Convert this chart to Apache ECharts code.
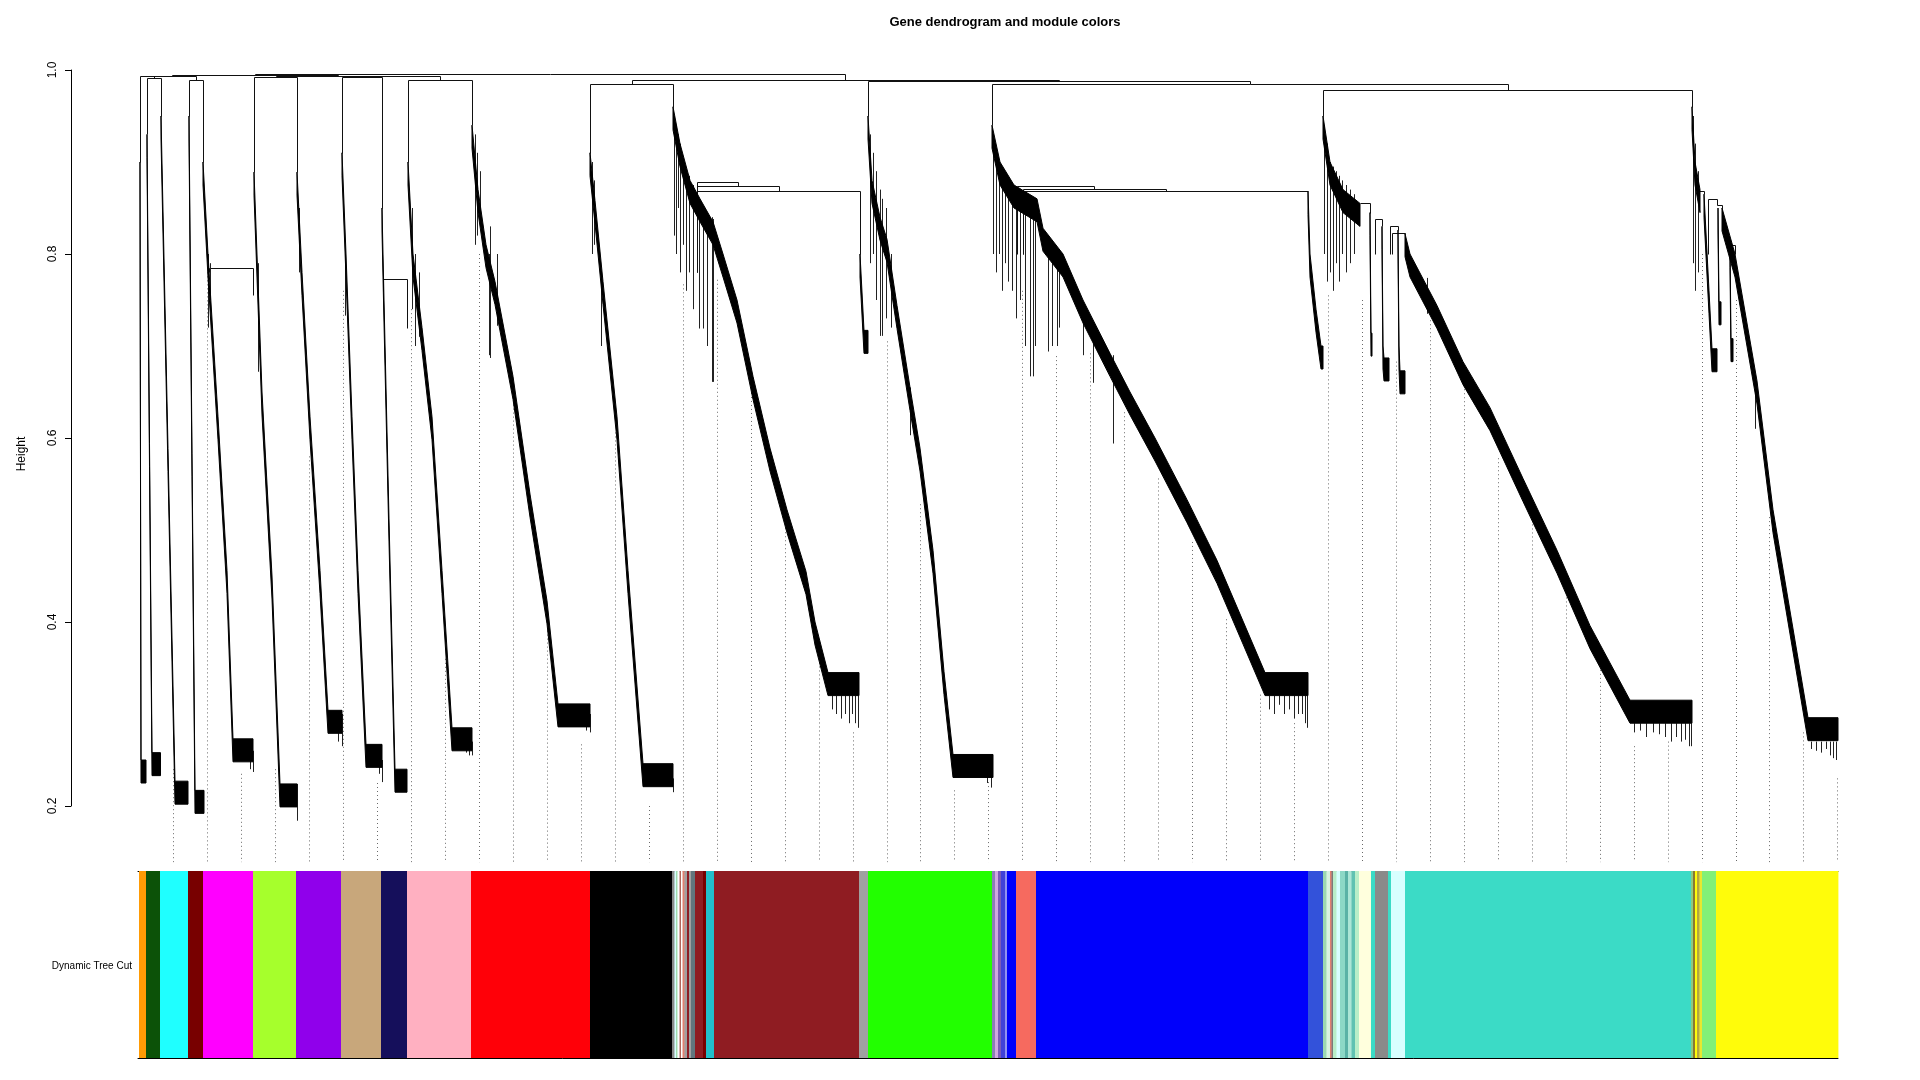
<!DOCTYPE html>
<html><head><meta charset="utf-8">
<script src="https://cdn.jsdelivr.net/npm/echarts/dist/echarts.min.js"></script>
<style>html,body{margin:0;padding:0;background:#fff;}#c{width:1920px;height:1080px;}</style>
</head><body><div id="c"></div>
<script>
// ---------------- DATA (leaf position 0..1700, height) ----------------
const yTicks = [0.2, 0.4, 0.6, 0.8, 1.0];
const leafRange = [0, 1700];
const HANG = 0.025;          // leaf hang of the dendrogram
const GUIDE_BASE = 0.139;    // bottom of the dendrogram panel

// merges: [xLeft, hLeftChild, xRight, hRightChild, hMerge]
const merges = [
  [9, 0.93, 23, 0.95, 0.9915],
  [2, 0.90, 16, 0.9915, 0.993],
  [51, 0.95, 65, 0.90, 0.989],
  [9, 0.993, 58, 0.989, 0.994],
  [116, 0.889, 159, 0.889, 0.9925],
  [204, 0.91, 244, 0.85, 0.9925],
  [270, 0.90, 334, 0.94, 0.9895],
  [224, 0.9925, 302, 0.9895, 0.993],
  [137.5, 0.9925, 263, 0.993, 0.994],
  [33.5, 0.994, 200.25, 0.994, 0.995],
  [452, 0.91, 535, 0.96, 0.985],
  [1185, 0.95, 1554, 0.96, 0.978],
  [854, 0.94, 1369.5, 0.978, 0.985],
  [730, 0.95, 1111.75, 0.985, 0.988],
  [493.5, 0.985, 920.9, 0.988, 0.989],
  [116.9, 0.995, 707.2, 0.989, 0.996],
  [71, 0.78, 115, 0.755, 0.785],
  [245, 0.76, 269, 0.72, 0.773],
  [559, 0.78, 722, 0.80, 0.869],
  [559, 0.78, 640.5, 0.869, 0.874],
  [559, 0.78, 599.75, 0.874, 0.878],
  [885, 0.80, 1170, 0.868, 0.868],
  [885, 0.80, 1027.5, 0.868, 0.871],
  [879, 0.80, 956, 0.871, 0.874],
  [1222, 0.855, 1232, 0.845, 0.855],
  [1237, 0.80, 1244, 0.83, 0.838],
  [1252, 0.80, 1260, 0.826, 0.83],
  [1254, 0.80, 1267, 0.822, 0.823],
  [1560, 0.80, 1566, 0.865, 0.869],
  [1570, 0.80, 1579, 0.853, 0.86],
  [1579, 0.853, 1584, 0.85, 0.853],
  [1592, 0.81, 1597, 0.80, 0.81]
];

// dense chaining branches of each module: upper edge [leaf, height]
const bandOrange = [[2, 0.90], [3, 0.25], [8, 0.25]];
const bandDarkgreen = [[9, 0.93], [14, 0.258], [22.5, 0.258]];
const bandCyan = [[23, 0.95], [37, 0.227], [50, 0.227]];
const bandDarkred = [[51, 0.95], [57, 0.217], [66, 0.217]];
const bandMagenta = [[65, 0.90], [70, 0.80], [80, 0.623], [89, 0.456], [95, 0.273], [115, 0.273]];
const bandGreenyellow = [[116, 0.889], [124, 0.65], [134, 0.45], [142, 0.224], [159, 0.224]];
const bandPurple = [[159, 0.889], [164, 0.78], [172, 0.623], [182, 0.456], [190, 0.304], [204, 0.304]];
const bandTan = [[204, 0.91], [208, 0.80], [214, 0.623], [220, 0.456], [228, 0.267], [244, 0.267]];
const bandMidnight = [[244, 0.85], [246, 0.75], [251, 0.512], [257, 0.24], [269, 0.24]];
const bandPink = [[270, 0.90], [275, 0.80], [284, 0.72], [294, 0.623], [304, 0.456], [314, 0.285], [334, 0.285]];
const bandRed = [[334, 0.94], [340, 0.87], [348, 0.81], [357, 0.77], [375, 0.667], [392, 0.539], [409, 0.423], [420, 0.311], [452, 0.311]];
const bandBlack = [[452, 0.91], [457, 0.858], [465, 0.77], [479, 0.623], [490, 0.456], [505, 0.246], [535, 0.246]];
const bandBrown = [[535, 0.96], [542, 0.92], [552, 0.88], [562, 0.86], [575, 0.835], [585, 0.80], [599, 0.75], [615, 0.667], [632, 0.589], [649, 0.522], [668, 0.455], [677, 0.40], [690, 0.345], [721, 0.345]];
const bandGrey = [[722, 0.80], [726, 0.717], [730, 0.717]];
const bandGreen = [[730, 0.95], [734, 0.88], [742, 0.84], [749, 0.816], [759, 0.744], [772, 0.655], [782, 0.589], [795, 0.478], [806, 0.346], [815, 0.256], [855, 0.256]];
const bandBlue = [[854, 0.94], [862, 0.90], [876, 0.875], [899, 0.86], [905, 0.828], [925, 0.80], [945, 0.75], [972, 0.692], [992, 0.65], [1017, 0.60], [1049, 0.533], [1079, 0.467], [1105, 0.401], [1127, 0.345], [1170, 0.345]];
const bandRoyalblue = [[1170, 0.868], [1172, 0.80], [1178, 0.74], [1183, 0.70], [1185, 0.70]];
const bandTurqFan = [[1185, 0.95], [1192, 0.90], [1205, 0.87], [1222, 0.855]];
const bandLightyellow = [[1232, 0.845], [1233, 0.714], [1234, 0.714]];
const bandGrey60 = [[1244, 0.83], [1245, 0.70], [1246, 0.687], [1251, 0.687]];
const bandLightcyan = [[1260, 0.826], [1261, 0.70], [1262, 0.673], [1267, 0.673]];
const bandTurquoise = [[1267, 0.822], [1272, 0.80], [1299, 0.744], [1325, 0.683], [1352, 0.633], [1385, 0.556], [1419, 0.478], [1452, 0.396], [1492, 0.315], [1554, 0.315]];
const bandYellowFan = [[1554, 0.96], [1557, 0.90], [1562, 0.87]];
const bandLightgreen = [[1566, 0.865], [1571, 0.76], [1574, 0.697], [1579, 0.697]];
const bandYellowSub1 = [[1580, 0.85], [1581, 0.748], [1583, 0.748]];
const bandYellowSub2 = [[1592, 0.81], [1593, 0.708], [1595, 0.708]];
const bandYellow = [[1584, 0.85], [1597, 0.80], [1619, 0.662], [1635, 0.522], [1652, 0.412], [1670, 0.296], [1700, 0.296]];

// single leaf lines: [leaf, hTop, hBottom]
const spikes = [
  [70, 0.80, 0.72], [72, 0.79, 0.75], [112, 0.26, 0.24], [115, 0.26, 0.237],
  [120, 0.79, 0.672], [159, 0.224, 0.184],
  [161, 0.85, 0.78], [200, 0.28, 0.27], [204, 0.30, 0.265],
  [207, 0.80, 0.733], [241, 0.245, 0.235], [244, 0.25, 0.226],
  [274, 0.85, 0.74], [277, 0.80, 0.70], [281, 0.78, 0.71], [328, 0.265, 0.258], [331, 0.265, 0.255], [334, 0.27, 0.255],
  [337, 0.93, 0.81], [339, 0.91, 0.82], [342, 0.89, 0.83], [351, 0.80, 0.69], [352, 0.83, 0.687], [359, 0.80, 0.722], [448, 0.29, 0.282], [452, 0.30, 0.28],
  [454, 0.90, 0.80], [456, 0.88, 0.81], [463, 0.78, 0.70], [535, 0.23, 0.215],
  [536, 0.95, 0.82], [538, 0.94, 0.80], [540, 0.93, 0.85], [542, 0.92, 0.78], [545, 0.90, 0.81], [548, 0.89, 0.76], [551, 0.885, 0.78], [555, 0.875, 0.74], [561, 0.86, 0.719], [565, 0.85, 0.719], [569, 0.845, 0.70], [574, 0.84, 0.661], [575, 0.838, 0.661],
  [694, 0.32, 0.305], [698, 0.32, 0.30], [703, 0.32, 0.295], [707, 0.32, 0.30], [711, 0.32, 0.29], [714, 0.32, 0.30], [717, 0.32, 0.29], [720, 0.32, 0.285],
  [732, 0.93, 0.79], [735, 0.91, 0.80], [738, 0.89, 0.75], [742, 0.87, 0.711], [744, 0.86, 0.711], [748, 0.85, 0.73], [753, 0.80, 0.72], [772, 0.655, 0.603],
  [849, 0.235, 0.225], [853, 0.24, 0.22],
  [855, 0.93, 0.80], [858, 0.91, 0.78], [861, 0.90, 0.80], [864, 0.89, 0.76], [867, 0.885, 0.79], [870, 0.88, 0.77], [874, 0.875, 0.76], [878, 0.87, 0.73], [882, 0.868, 0.75], [887, 0.866, 0.70], [892, 0.862, 0.667], [895, 0.86, 0.667], [897, 0.86, 0.70],
  [910, 0.82, 0.694], [914, 0.81, 0.70], [919, 0.80, 0.70], [921, 0.79, 0.72], [945, 0.73, 0.69], [955, 0.71, 0.66], [975, 0.69, 0.594],
  [1131, 0.32, 0.305], [1136, 0.32, 0.30], [1141, 0.32, 0.31], [1146, 0.32, 0.30], [1151, 0.32, 0.305], [1156, 0.32, 0.295], [1160, 0.32, 0.30], [1164, 0.32, 0.30], [1167, 0.32, 0.29], [1169, 0.32, 0.285],
  [1186, 0.94, 0.80], [1189, 0.92, 0.77], [1192, 0.90, 0.78], [1195, 0.895, 0.76], [1198, 0.89, 0.79], [1201, 0.885, 0.77], [1204, 0.88, 0.80], [1208, 0.875, 0.78], [1212, 0.87, 0.79], [1216, 0.865, 0.80], [1289, 0.774, 0.735],
  [1496, 0.29, 0.28], [1502, 0.29, 0.282], [1508, 0.29, 0.275], [1515, 0.29, 0.28], [1521, 0.29, 0.278], [1527, 0.29, 0.275], [1533, 0.29, 0.27], [1538, 0.29, 0.275], [1543, 0.29, 0.27], [1547, 0.29, 0.272], [1551, 0.29, 0.265], [1553, 0.29, 0.265],
  [1555, 0.95, 0.79], [1557, 0.92, 0.76], [1560, 0.89, 0.78], [1617, 0.655, 0.61],
  [1673, 0.27, 0.262], [1678, 0.27, 0.26], [1683, 0.27, 0.258], [1688, 0.27, 0.262], [1692, 0.27, 0.255], [1695, 0.27, 0.252], [1698, 0.27, 0.25]
];

// guide lines
const guideX = [35.3, 69.3, 103.2, 137.2, 171.1, 205.1, 239.1, 273.0, 307.0, 340.9, 374.9, 408.9, 442.8, 476.8, 510.7, 544.7, 578.7, 612.6, 646.6, 680.5, 714.5, 748.5, 782.4, 816.4, 850.3, 884.3, 918.3, 952.2, 986.2, 1020.1, 1054.1, 1088.1, 1122.0, 1156.0, 1189.9, 1223.9, 1257.9, 1291.8, 1325.8, 1359.7, 1393.7, 1427.7, 1461.6, 1495.6, 1529.5, 1563.5, 1597.5, 1631.4, 1665.4, 1699.3];
const guideTop = [0.24, 0.78, 0.235, 0.24, 0.58, 0.76, 0.225, 0.74, 0.36, 0.80, 0.645, 0.395, 0.267, 0.606, 0.20, 0.767, 0.772, 0.662, 0.528, 0.356, 0.28, 0.705, 0.528, 0.217, 0.226, 0.76, 0.689, 0.692, 0.628, 0.556, 0.487, 0.403, 0.321, 0.29, 0.755, 0.75, 0.683, 0.728, 0.653, 0.578, 0.506, 0.431, 0.348, 0.265, 0.27, 0.80, 0.75, 0.514, 0.28, 0.23];

// module colour bar (Dynamic Tree Cut)
const stripeEdges = [1, 8, 22, 50, 65, 115, 158, 203, 243, 269, 333, 452, 534, 536.5, 538, 539.5, 541.5, 543, 544.5, 546.5, 549, 551, 553, 557, 565, 568, 576, 721, 730, 854, 857, 860, 863, 867, 869, 878, 898, 1170, 1185, 1188.5, 1192, 1193.5, 1195, 1198.5, 1202, 1207, 1210, 1213.5, 1217, 1221, 1233, 1237, 1250, 1253, 1267, 1553, 1555, 1557, 1559, 1561.5, 1564, 1578, 1700];
const stripeModules = ['orange', 'darkgreen', 'cyan', 'darkred', 'magenta', 'greenyellow', 'purple', 'tan', 'midnightblue', 'pink', 'red', 'black',
  'grey60', 'lightcyan', 'palegreen3', 'white', 'sienna3', 'white', 'lightcoral', 'darkgrey', 'brown', 'grey', 'slategrey', 'brown', 'darkred', 'darkturquoise',
  'brown', 'grey', 'green',
  'mediumpurple3', 'plum2', 'mediumpurple4', 'slateblue3', 'lightslateblue', 'blue', 'salmon', 'blue', 'royalblue',
  'darkseagreen3', 'honeydew1', 'lightcoral', 'grey40', 'darkseagreen1', 'lightcyan', 'aquamarine3', 'cadetblue', 'paleturquoise', 'mediumaquamarine', 'darkseagreen1',
  'lightyellow', 'turquoise', 'grey60', 'turquoise', 'lightcyan', 'turquoise',
  'darkolivegreen2', 'olive', 'yellow', 'darkkhaki', 'yellow2', 'lightgreen', 'yellow'];

// ---------------- STYLE ----------------
const palette = {
  orange: '#FF9B05', darkgreen: '#0C5208', cyan: '#1FFFFF', darkred: '#780000', magenta: '#FF00FF',
  greenyellow: '#A6FF2C', purple: '#9000EB', tan: '#C8A77B', midnightblue: '#150F5B', pink: '#FFB0C1',
  red: '#FF0008', black: '#000000', grey60: '#8A8A8A', lightcyan: '#D8FFFF', palegreen3: '#A0DDB0',
  white: '#FFFFFF', sienna3: '#B0655A', lightcoral: '#E08070', darkgrey: '#A0A0A0', brown: '#8F1C22',
  grey: '#A0A0A0', slategrey: '#62767E', darkturquoise: '#22BFCB', green: '#22FF00',
  mediumpurple3: '#8C7CB8', plum2: '#D0A8E0', mediumpurple4: '#7A5AB8', slateblue3: '#4040D8',
  lightslateblue: '#9090F0', blue: '#0000FB', salmon: '#F66A5F', royalblue: '#3352DA',
  darkseagreen3: '#9BD8B0', honeydew1: '#D8F4E0', grey40: '#7A7A7A', darkseagreen1: '#B8EEC8',
  aquamarine3: '#8CD8C6', cadetblue: '#5AB2A6', paleturquoise: '#ACE6D6', mediumaquamarine: '#60C2B2',
  lightyellow: '#FFFFDD', turquoise: '#3BDBC6', darkolivegreen2: '#90C880', olive: '#8A7A30',
  yellow: '#FFFC0A', darkkhaki: '#B4A640', yellow2: '#E8E830', lightgreen: '#82F078'
};
const FONT = '"Liberation Sans", Arial, Helvetica, sans-serif';

const bands = [bandOrange, bandDarkgreen, bandCyan, bandDarkred, bandMagenta, bandGreenyellow, bandPurple, bandTan,
  bandMidnight, bandPink, bandRed, bandBlack, bandBrown, bandGrey, bandGreen, bandBlue, bandRoyalblue, bandTurqFan,
  bandLightyellow, bandGrey60, bandLightcyan, bandTurquoise, bandYellowFan, bandLightgreen, bandYellowSub1, bandYellowSub2, bandYellow];

const crisp = v => Math.round(v) + 0.5;

const chart = echarts.init(document.getElementById('c'), null, {renderer: 'canvas', width: 1920, height: 1080});

const option = {
  animation: false,
  backgroundColor: '#ffffff',
  grid: [
    // dendrogram panel: R pads the leaf range on the left, the height axis sits at the padded edge
    {left: 71, top: 70, width: 1767, height: 736},
    {left: 138, top: 871, width: 1700, height: 187}
  ],
  xAxis: [
    {gridIndex: 0, type: 'value', min: -67, max: leafRange[1], show: false},
    {gridIndex: 1, type: 'value', min: leafRange[0], max: leafRange[1], position: 'bottom',
      axisLine: {show: true, onZero: false, lineStyle: {color: '#000', width: 1}}, axisTick: {show: false}, axisLabel: {show: false}, splitLine: {show: false}},
    {gridIndex: 1, type: 'value', min: leafRange[0], max: leafRange[1], position: 'top',
      axisLine: {show: true, onZero: false, lineStyle: {color: '#000', width: 1}}, axisTick: {show: false}, axisLabel: {show: false}, splitLine: {show: false}}
  ],
  yAxis: [
    {gridIndex: 0, type: 'value', min: yTicks[0], max: yTicks[yTicks.length - 1], interval: 0.2, position: 'left',
      axisLine: {show: true, onZero: false, lineStyle: {color: '#000', width: 1}},
      axisTick: {show: true, length: 6, lineStyle: {color: '#000'}},
      axisLabel: {rotate: 90, margin: 12, fontSize: 12, color: '#000', fontFamily: FONT, formatter: v => v.toFixed(1)},
      splitLine: {show: false}},
    {gridIndex: 1, type: 'value', min: 0, max: 1, show: false}
  ],
  graphic: [
    {type: 'text', x: 1005, y: 22, style: {text: 'Gene dendrogram and module colors', align: 'center', verticalAlign: 'middle', font: 'bold 13px ' + FONT, fill: '#000'}},
    {type: 'text', x: 22, y: 454, rotation: Math.PI / 2, style: {text: 'Height', align: 'center', verticalAlign: 'middle', font: '12px ' + FONT, fill: '#000'}},
    {type: 'text', x: 132, y: 966, style: {text: 'Dynamic Tree Cut', align: 'right', verticalAlign: 'middle', font: '10px ' + FONT, fill: '#000'}}
  ],
  series: [
    { // guide lines
      type: 'custom', xAxisIndex: 0, yAxisIndex: 0, clip: false, silent: true, z: 1,
      data: guideX.map((x, i) => [x, guideTop[i]]),
      renderItem(params, api) {
        const a = api.coord([api.value(0), api.value(1)]);
        const b = api.coord([api.value(0), GUIDE_BASE]);
        const x = crisp(a[0]);
        return {type: 'line', shape: {x1: x, y1: a[1], x2: x, y2: b[1]}, style: {stroke: '#6a6a6a', lineWidth: 1, lineDash: [1, 3]}};
      }
    },
    { // merges
      type: 'custom', xAxisIndex: 0, yAxisIndex: 0, clip: false, silent: true, z: 2,
      data: merges,
      renderItem(params, api) {
        const xl = api.value(0), hl = api.value(1), xr = api.value(2), hr = api.value(3), h = api.value(4);
        const pts = [[xl, hl], [xl, h], [xr, h], [xr, hr]].map(p => api.coord(p)).map(p => [crisp(p[0]), crisp(p[1])]);
        return {type: 'polyline', shape: {points: pts}, style: {stroke: '#111', lineWidth: 1, fill: null}};
      }
    },
    { // dense module branches
      type: 'custom', xAxisIndex: 0, yAxisIndex: 0, clip: false, silent: true, z: 3,
      data: bands.map((b, i) => [b[0][0], b[0][1], i]),
      renderItem(params, api) {
        const pts = bands[params.dataIndex];
        const upper = pts.map(p => api.coord([p[0], p[1]]));
        const lower = pts.map(p => api.coord([p[0], p[1] - HANG])).reverse();
        return {type: 'polygon', shape: {points: upper.concat(lower)}, style: {fill: '#000', stroke: '#000', lineWidth: 1}};
      }
    },
    { // single leaves
      type: 'custom', xAxisIndex: 0, yAxisIndex: 0, clip: false, silent: true, z: 2,
      data: spikes,
      renderItem(params, api) {
        const a = api.coord([api.value(0), api.value(1)]);
        const b = api.coord([api.value(0), api.value(2)]);
        const x = crisp(a[0]);
        return {type: 'line', shape: {x1: x, y1: a[1], x2: x, y2: b[1]}, style: {stroke: '#222', lineWidth: 1}};
      }
    },
    { // colour bar
      type: 'custom', xAxisIndex: 1, yAxisIndex: 1, silent: true, z: 1,
      data: stripeModules.map((m, i) => [stripeEdges[i], stripeEdges[i + 1], i]),
      renderItem(params, api) {
        const a = api.coord([api.value(0), 1]);
        const b = api.coord([api.value(1), 0]);
        return {type: 'rect', shape: {x: a[0], y: a[1], width: b[0] - a[0] + 0.4, height: b[1] - a[1]},
          style: {fill: palette[stripeModules[params.dataIndex]]}};
      }
    }
  ]
};
chart.setOption(option);
</script></body></html>
